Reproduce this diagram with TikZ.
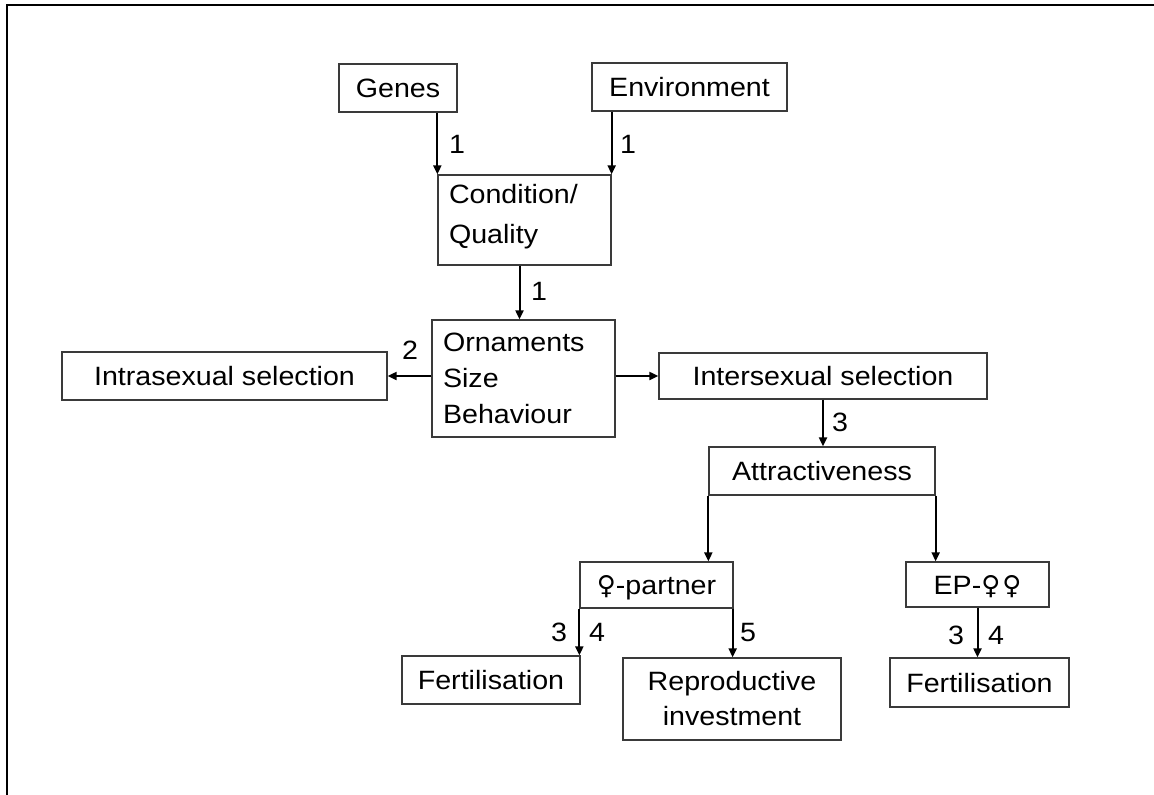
\documentclass[tikz,border=0pt]{standalone}
\usepackage{fontspec}
\setmainfont{Liberation Sans}[FakeStretch=1.08]
\newfontfamily\symfont{DejaVu Sans}
\newcommand{\fem}{{\symfont\fontsize{26}{30}\selectfont ♀}}
\usetikzlibrary{arrows.meta,calc}
\definecolor{boxline}{HTML}{3A3A3A}
\tikzset{
 box/.style={draw=boxline, line width=1.3pt, inner sep=0pt, text height=19pt, text depth=0pt, font=\fontsize{26.5}{30}\selectfont},
 mbox/.style={draw=boxline, line width=1.3pt, inner sep=0pt},
 conn/.style={line width=2pt, -{Triangle[length=9pt,width=8pt]}},
 lab/.style={inner sep=0pt, text height=19pt, text depth=0pt, font=\fontsize{26.5}{30}\selectfont},
 frameline/.style={line width=2.2pt, black},
}
\begin{document}
\begin{tikzpicture}[x=1pt,y=-1pt]
\useasboundingbox (0,0) rectangle (1154,795);
\draw[frameline] (7,796) -- (7,5) -- (1155,5);

% boxes
\node[box, minimum width=118pt, minimum height=48pt] (genes) at (398,88) {Genes};
\node[box, minimum width=195pt, minimum height=48pt] (env) at (689.5,87) {Environment};
\node[mbox, minimum width=173pt, minimum height=90pt, text width=151pt, align=left,
      font=\fontsize{26.5}{40}\selectfont] (cond) at (524.5,220)
      {Condition/\\Quality\rule[-12.5pt]{0pt}{12.5pt}};
\node[mbox, minimum width=183pt, minimum height=117pt, text width=161pt, align=left,
      font=\fontsize{26.5}{36}\selectfont] (orn) at (523.5,378.5)
      {Ornaments\\Size\\Behaviour};
\node[box, minimum width=325pt, minimum height=48pt] (intra) at (224.5,376) {Intrasexual selection};
\node[box, minimum width=328pt, minimum height=46pt] (inter) at (823,376) {Intersexual selection};
\node[box, minimum width=226pt, minimum height=48pt] (attr) at (822,471) {Attractiveness};
\node[box, minimum width=153pt, minimum height=46pt] (fp) at (656.5,585) {\fem-partner};
\node[box, minimum width=143pt, minimum height=45pt] (ep) at (977.5,584.5) {EP-\fem\kern2pt\fem};
\node[box, minimum width=178pt, minimum height=48pt] (fertl) at (491,680) {Fertilisation};
\node[mbox, minimum width=218pt, minimum height=82pt, align=center,
      font=\fontsize{26.5}{35}\selectfont] (repro) at (732,699)
      {Reproductive\\investment};
\node[box, minimum width=179pt, minimum height=49pt] (fertr) at (979.5,682.5) {Fertilisation};

% connectors
\draw[conn] (genes.south -| cond.north west) -- (cond.north west);
\draw[conn] (env.south -| cond.north east) -- (cond.north east);
\draw[conn] ([xshift=-5pt]cond.south) -- ([xshift=-5pt]cond.south |- orn.north);
\draw[conn] (orn.west |- intra.east) -- (intra.east);
\draw[conn] (orn.east |- inter.west) -- (inter.west);
\draw[conn] (inter.south) -- (inter.south |- attr.north);
\draw[conn] (attr.south west) -- (attr.south west |- fp.north);
\draw[conn] (attr.south east) -- (attr.south east |- ep.north);
\draw[conn] (fp.south west) -- (fp.south west |- fertl.north);
\draw[conn] ([xshift=-1pt]fp.south east) -- ([xshift=-1pt]fp.south east |- repro.north);
\draw[conn] (ep.south) -- (ep.south |- fertr.north);

% labels
\node[lab] (l1) at (457,144) {1};
\node[lab] (l2) at (628,144) {1};
\node[lab] (l3) at (539,291) {1};
\node[lab] (l4) at (410,350) {2};
\node[lab] (l5) at (840,422) {3};
\node[lab] (l6) at (559,632) {3};
\node[lab] (l7) at (597,632) {4};
\node[lab] (l8) at (748,632) {5};
\node[lab] (l9) at (956,635) {3};
\node[lab] (l10) at (996,635) {4};
\end{tikzpicture}
\end{document}
